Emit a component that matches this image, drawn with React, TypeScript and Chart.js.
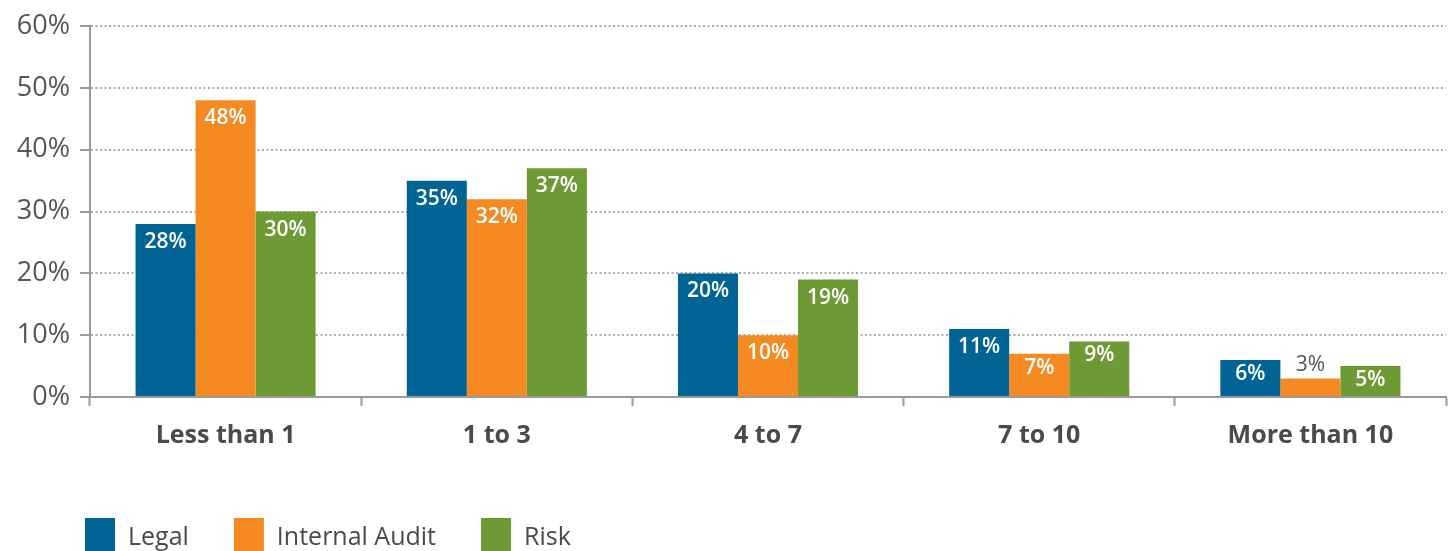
import React, { useEffect, useRef } from 'react';
import { Chart, registerables } from 'chart.js';

Chart.register(...registerables);

const categories = ['Less than 1', '1 to 3', '4 to 7', '7 to 10', 'More than 10'];
const legalValues = [28, 35, 20, 11, 6];
const internalAuditValues = [48, 32, 10, 7, 3];
const riskValues = [30, 37, 19, 9, 5];
const seriesNames = ['Legal', 'Internal Audit', 'Risk'];
const seriesColors = ['#006494', '#F58A22', '#6E9A35'];
const yMax = 60;
const yStep = 10;

const FONT = '"Open Sans", "Noto Sans", sans-serif';

const valueLabels = {
  id: 'valueLabels',
  afterDatasetsDraw(chart: any) {
    const ctx = chart.ctx;
    ctx.save();
    ctx.textAlign = 'center';
    ctx.textBaseline = 'middle';
    chart.data.datasets.forEach((ds: any, i: number) => {
      const meta = chart.getDatasetMeta(i);
      meta.data.forEach((bar: any, j: number) => {
        const v = ds.data[j];
        const h = bar.base - bar.y;
        const text = v + '%';
        if (h < 26) {
          ctx.fillStyle = '#555555';
          ctx.font = `500 21px ${FONT}`;
          ctx.fillText(text, bar.x, bar.y - 13);
        } else {
          ctx.fillStyle = '#ffffff';
          ctx.font = `600 21px ${FONT}`;
          ctx.fillText(text, bar.x, bar.y + (h < 60 ? 14 : 18));
        }
      });
    });
    ctx.restore();
  },
};

const bottomLegend = {
  id: 'bottomLegend',
  afterDraw(chart: any) {
    const ctx = chart.ctx;
    ctx.save();
    ctx.font = `400 25px ${FONT}`;
    ctx.textBaseline = 'alphabetic';
    ctx.textAlign = 'left';
    let x = 85;
    chart.data.datasets.forEach((ds: any) => {
      ctx.fillStyle = ds.backgroundColor;
      ctx.fillRect(x, 518, 30, 40);
      ctx.fillStyle = '#4a4a4a';
      ctx.fillText(ds.label, x + 43, 545);
      x += 43 + ctx.measureText(ds.label).width + 45;
    });
    ctx.restore();
  },
};

export default function App() {
  const ref = useRef<HTMLCanvasElement>(null);
  useEffect(() => {
    if (!ref.current) return;
    const seriesValues = [legalValues, internalAuditValues, riskValues];
    const chart = new Chart(ref.current, {
      type: 'bar',
      data: {
        labels: categories,
        datasets: seriesNames.map((name, i) => ({
          label: name,
          data: seriesValues[i],
          backgroundColor: seriesColors[i],
          borderWidth: 0,
          barPercentage: 1,
          categoryPercentage: 0.664,
        })),
      },
      options: {
        animation: false,
        responsive: false,
        maintainAspectRatio: false,
        layout: { padding: { top: 11, right: 2, bottom: 81, left: 0 } },
        plugins: {
          legend: { display: false },
          tooltip: { enabled: false },
        },
        scales: {
          x: {
            afterFit: (s: any) => { s.height = 73; },
            grid: {
              display: true,
              offset: true,
              drawOnChartArea: false,
              drawTicks: true,
              tickLength: 9,
              tickColor: '#999999',
              tickWidth: 2,
            },
            border: { display: true, color: '#999999', width: 2 },
            ticks: {
              color: '#4a4a4a',
              padding: 15,
              font: { family: FONT, size: 25, weight: 'bold' },
            },
          },
          y: {
            min: 0,
            max: yMax,
            afterFit: (s: any) => { s.width = 90; },
            grid: {
              color: '#aaaaaa',
              lineWidth: 2,
              drawTicks: true,
              tickLength: 10,
              tickColor: '#999999',
              tickWidth: 2,
              tickBorderDash: [],
            },
            border: { display: true, color: '#999999', width: 2, dash: [2, 2.5] },
            ticks: {
              stepSize: yStep,
              color: '#555555',
              padding: 10,
              font: { family: FONT, size: 27 },
              callback: (v: any) => v + '%',
            },
          },
        },
      },
      plugins: [valueLabels, bottomLegend],
    });
    return () => chart.destroy();
  }, []);
  return (
    <div style={{ position: 'fixed', left: 0, top: 0, width: 1448, height: 551 }}>
      <canvas ref={ref} width={1448} height={551} style={{ width: 1448, height: 551 }} />
    </div>
  );
}
